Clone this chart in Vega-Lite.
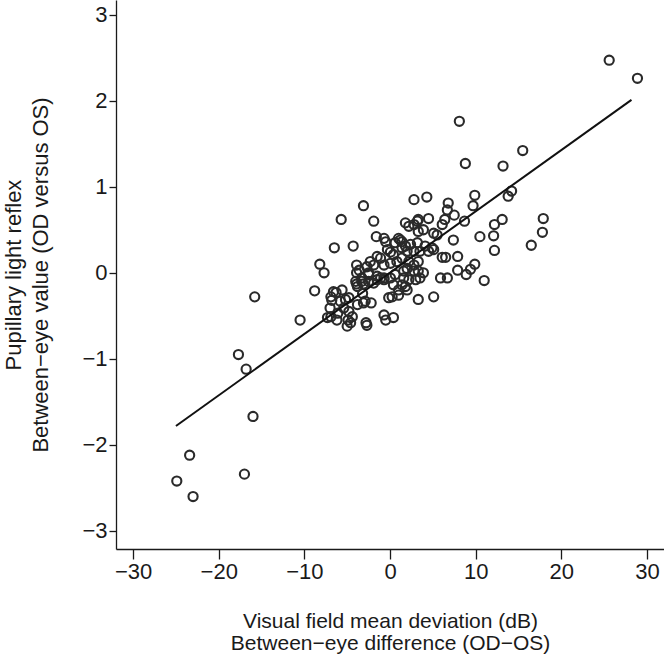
{
  "$schema": "https://vega.github.io/schema/vega-lite/v6.json",
  "width": 548,
  "height": 549,
  "autosize": {"type": "none"},
  "padding": {"left": 116, "top": 0, "right": 0, "bottom": 106},
  "background": "white",
  "config": {
    "view": {"stroke": null},
    "axis": {
      "grid": false,
      "domainColor": "#1a1a1a",
      "tickColor": "#1a1a1a",
      "labelColor": "#1a1a1a",
      "titleColor": "#1a1a1a",
      "labelFont": "Liberation Sans",
      "titleFont": "Liberation Sans",
      "labelFontSize": 22,
      "titleFontSize": 22,
      "titleFontWeight": "normal",
      "domainWidth": 1.3,
      "tickWidth": 1.3,
      "labelPadding": 2,
      "format": "d"
    }
  },
  "datasets": {
    "pts": [
      {"x": -24.9, "y": -2.42}, {"x": -23.4, "y": -2.12}, {"x": -23.0, "y": -2.60}, {"x": -17.0, "y": -2.34},
      {"x": -17.7, "y": -0.95}, {"x": -16.8, "y": -1.12}, {"x": -16.0, "y": -1.67}, {"x": -15.8, "y": -0.28},
      {"x": -10.5, "y": -0.55}, {"x": -8.8, "y": -0.21}, {"x": -8.2, "y": 0.10}, {"x": -7.7, "y": 0.00},
      {"x": -6.5, "y": 0.29}, {"x": -5.7, "y": 0.62}, {"x": -4.3, "y": 0.31}, {"x": -3.1, "y": 0.78},
      {"x": -1.9, "y": 0.60}, {"x": -6.6, "y": -0.22}, {"x": -6.3, "y": -0.23}, {"x": -6.9, "y": -0.28},
      {"x": -6.8, "y": -0.32}, {"x": -5.2, "y": -0.31}, {"x": -7.0, "y": -0.41}, {"x": -5.4, "y": -0.41},
      {"x": -6.1, "y": -0.47}, {"x": -6.9, "y": -0.51}, {"x": -7.3, "y": -0.52}, {"x": -6.2, "y": -0.55},
      {"x": -4.9, "y": -0.55}, {"x": -4.6, "y": -0.58}, {"x": -5.0, "y": -0.62}, {"x": -2.8, "y": -0.58},
      {"x": -2.7, "y": -0.61}, {"x": -0.7, "y": -0.49}, {"x": -0.5, "y": -0.55}, {"x": 0.4, "y": -0.52},
      {"x": -3.9, "y": 0.09}, {"x": -3.6, "y": 0.03}, {"x": -3.9, "y": 0.00}, {"x": -2.7, "y": 0.07},
      {"x": -2.5, "y": 0.00}, {"x": -3.9, "y": -0.13}, {"x": -3.8, "y": -0.16}, {"x": -3.1, "y": -0.13},
      {"x": -3.2, "y": -0.24}, {"x": -3.8, "y": -0.37}, {"x": -2.9, "y": -0.33}, {"x": -2.2, "y": -0.35},
      {"x": -5.8, "y": -0.33}, {"x": -1.9, "y": -0.12}, {"x": -1.5, "y": -0.08}, {"x": -1.1, "y": -0.06},
      {"x": 1.8, "y": 0.58}, {"x": 2.2, "y": 0.54}, {"x": -1.6, "y": 0.42}, {"x": -0.7, "y": 0.40},
      {"x": 1.0, "y": 0.40}, {"x": 1.8, "y": 0.31}, {"x": 1.4, "y": 0.29}, {"x": 2.0, "y": 0.25},
      {"x": -0.3, "y": 0.27}, {"x": 0.05, "y": 0.24}, {"x": 0.4, "y": 0.21}, {"x": -1.5, "y": 0.19},
      {"x": -1.1, "y": 0.17}, {"x": -2.3, "y": 0.13}, {"x": -1.9, "y": 0.09}, {"x": -0.7, "y": 0.09},
      {"x": 0.05, "y": 0.11}, {"x": 0.8, "y": 0.13}, {"x": 1.4, "y": 0.17}, {"x": -4.0, "y": -0.10},
      {"x": -3.3, "y": -0.06}, {"x": -2.5, "y": -0.02}, {"x": -1.5, "y": -0.04}, {"x": -0.7, "y": -0.06},
      {"x": 0.05, "y": -0.06}, {"x": 0.6, "y": -0.02}, {"x": 1.6, "y": 0.02}, {"x": 2.2, "y": -0.08},
      {"x": 2.8, "y": 0.56}, {"x": 3.3, "y": 0.62}, {"x": 3.9, "y": 0.50}, {"x": 3.3, "y": 0.48},
      {"x": 6.1, "y": 0.56}, {"x": 6.4, "y": 0.62}, {"x": 7.5, "y": 0.67}, {"x": 6.7, "y": 0.73},
      {"x": 6.8, "y": 0.81}, {"x": 8.7, "y": 0.60}, {"x": 5.1, "y": 0.46}, {"x": 5.5, "y": 0.44},
      {"x": 7.4, "y": 0.38}, {"x": 1.4, "y": 0.36}, {"x": 2.4, "y": 0.33}, {"x": 3.2, "y": 0.35},
      {"x": 4.1, "y": 0.31}, {"x": 4.9, "y": 0.29}, {"x": 2.8, "y": 0.25}, {"x": 3.5, "y": 0.25},
      {"x": 4.5, "y": 0.25}, {"x": 5.1, "y": 0.27}, {"x": 6.1, "y": 0.18}, {"x": 6.5, "y": 0.18},
      {"x": 7.9, "y": 0.19}, {"x": 2.2, "y": 0.13}, {"x": 2.8, "y": 0.09}, {"x": 3.3, "y": 0.13},
      {"x": 2.0, "y": 0.05}, {"x": 2.8, "y": 0.02}, {"x": 3.3, "y": 0.02}, {"x": 3.9, "y": 0.00},
      {"x": 7.9, "y": 0.03}, {"x": 8.9, "y": -0.02}, {"x": 9.4, "y": 0.04}, {"x": 9.9, "y": 0.10},
      {"x": 5.9, "y": -0.06}, {"x": 6.7, "y": -0.06}, {"x": 1.6, "y": -0.06}, {"x": 3.0, "y": -0.08},
      {"x": 3.5, "y": -0.06}, {"x": -3.3, "y": -0.10}, {"x": -2.5, "y": -0.10}, {"x": -0.7, "y": -0.08},
      {"x": 0.4, "y": -0.14}, {"x": 1.0, "y": -0.20}, {"x": 1.8, "y": -0.16}, {"x": -5.6, "y": -0.20},
      {"x": -4.8, "y": -0.29}, {"x": -3.1, "y": -0.35}, {"x": -0.15, "y": -0.29}, {"x": 0.25, "y": -0.28},
      {"x": 1.0, "y": -0.26}, {"x": -4.8, "y": -0.45}, {"x": -4.4, "y": -0.51}, {"x": 1.4, "y": -0.14},
      {"x": 2.0, "y": -0.20}, {"x": 3.3, "y": -0.31}, {"x": 5.1, "y": -0.28}, {"x": 2.8, "y": 0.85},
      {"x": 4.3, "y": 0.88}, {"x": 9.9, "y": 0.90}, {"x": 9.7, "y": 0.78}, {"x": 13.8, "y": 0.89},
      {"x": 14.2, "y": 0.95}, {"x": 4.5, "y": 0.63}, {"x": 3.2, "y": 0.60}, {"x": 12.2, "y": 0.56},
      {"x": 13.1, "y": 0.62}, {"x": 17.9, "y": 0.63}, {"x": 17.8, "y": 0.47}, {"x": 16.5, "y": 0.32},
      {"x": 10.5, "y": 0.42}, {"x": 12.1, "y": 0.43}, {"x": 12.2, "y": 0.26}, {"x": 11.0, "y": -0.09},
      {"x": 1.2, "y": 0.38}, {"x": 0.6, "y": 0.35}, {"x": -0.5, "y": 0.36}, {"x": 25.6, "y": 2.47},
      {"x": 28.9, "y": 2.26}, {"x": 8.1, "y": 1.76}, {"x": 15.5, "y": 1.42}, {"x": 8.8, "y": 1.27},
      {"x": 13.2, "y": 1.24}
    ],
    "fit": [
      {"x": -25.0, "y": -1.78},
      {"x": 28.2, "y": 2.01}
    ]
  },
  "layer": [
    {
      "data": {"name": "pts"},
      "mark": {"type": "point", "shape": "circle", "filled": false, "stroke": "#2a2a2a", "strokeWidth": 2.1, "size": 84, "opacity": 1},
      "encoding": {
        "x": {
          "field": "x", "type": "quantitative",
          "scale": {"domain": [-32, 32], "nice": false, "zero": false},
          "axis": {"values": [-30, -20, -10, 0, 10, 20, 30], "tickSize": 10, "title": ["Visual field mean deviation (dB)", "Between−eye difference (OD−OS)"], "titleFontSize": 21, "titlePadding": 28, "titleLineHeight": 22}
        },
        "y": {
          "field": "y", "type": "quantitative",
          "scale": {"domain": [-3.21, 3.17], "nice": false, "zero": false},
          "axis": {"values": [-3, -2, -1, 0, 1, 2, 3], "tickSize": 7, "title": ["Pupillary light reflex", "Between−eye value (OD versus OS)"], "titlePadding": 29, "titleLineHeight": 27}
        }
      }
    },
    {
      "data": {"name": "fit"},
      "mark": {"type": "line", "color": "#111111", "strokeWidth": 2},
      "encoding": {
        "x": {"field": "x", "type": "quantitative"},
        "y": {"field": "y", "type": "quantitative"}
      }
    }
  ]
}
